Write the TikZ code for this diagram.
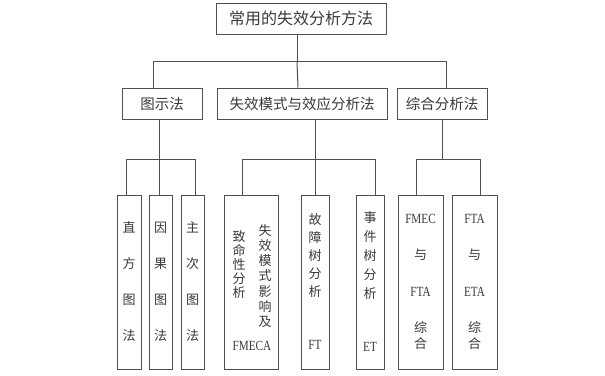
\documentclass[tikz,border=0pt]{standalone}
\usepackage{fontspec}
\setmainfont{Liberation Serif}
\newfontfamily\cjk{Noto Sans CJK SC}
\newfontfamily\latn[FakeStretch=0.8]{Liberation Serif}
\usetikzlibrary{positioning}
\definecolor{edge}{HTML}{505050}
\definecolor{ink}{HTML}{3A3A3A}
\newcommand\en[1]{{\latn\fontsize{14}{16}\selectfont #1}}
\tikzset{
  % A heading box with one line of text
  headbox/.style={
    draw=edge, line width=1pt, fill=white, rectangle, align=center,
    font=\cjk\fontsize{14.5}{16}\selectfont, text=ink,
    inner sep=0pt, minimum height=31, minimum width=#1},
  % A tall leaf box, text stacked one character per line
  leafbox/.style={
    draw=edge, line width=1pt, fill=white, rectangle, align=center,
    font=\cjk\fontsize{13}{36}\selectfont, text=ink,
    inner sep=0pt, minimum height=174, minimum width=#1},
  % Loose stacked text inside a leaf box
  vtext/.style={align=center, text=ink, inner sep=0pt},
  % Tree lines
  link/.style={draw=edge, line width=1pt},
}

\begin{document}
\begin{tikzpicture}[x=1pt, y=-1pt]
\useasboundingbox (0,0) rectangle (605,375);

\node[headbox=170, font=\cjk\fontsize{16}{18}\selectfont] (top) at (301,18.5) {常用的失效分析方法};

\node[headbox=80] (gs) at (162,103.5) {图示法};
\node[headbox=170, right=14 of gs] (sx) {失效模式与效应分析法};
\node[headbox=90, right=9 of sx] (zh) {综合分析法};

\node[leafbox=24] (zf) at (129,282) {直\\方\\图\\法};
\node[leafbox=23, right=7 of zf] (yg) {因\\果\\图\\法};
\node[leafbox=23, right=8 of yg] (zc) {主\\次\\图\\法};

\node[leafbox=54] (fm) at (251,282) {};
\node[leafbox=28, right=22 of fm, font=\cjk\fontsize{13}{18}\selectfont] (ft) {故\\障\\树\\分\\析\\[35pt]\en{FT}};
\node[leafbox=28, right=26 of ft, font=\cjk\fontsize{13}{19}\selectfont] (et) {事\\件\\树\\分\\析\\[34pt]\en{ET}};

\node[leafbox=45, right=13 of et, font=\cjk\fontsize{13}{16}\selectfont] (fa) {\en{FMEC}\\[20pt]与\\[21pt]\en{FTA}\\[20pt]综\\合};
\node[leafbox=45, right=8 of fa, font=\cjk\fontsize{13}{16}\selectfont] (fe) {\en{FTA}\\[20pt]与\\[21pt]\en{ETA}\\[20pt]综\\合};

\node[vtext, font=\cjk\fontsize{13}{15.3}\selectfont] (fmR) at (265,276) {失\\效\\模\\式\\影\\响\\及};
\node[vtext, font=\cjk\fontsize{13}{14}\selectfont] (fmL) at (239,265) {致\\命\\性\\分\\析};
\node[vtext] (fmC) at (252,346) {\en{FMECA}};

\draw[link] ([xshift=-4pt]top.south) -- ++(0,27) coordinate (j1);
\draw[link] ([xshift=-9pt]gs.north) |- (j1) -| ([xshift=4pt]zh.north);
\draw[link] (j1) -- ([xshift=-4pt]sx.north);

\draw[link] ([xshift=-3pt]gs.south) -- ++(0,40) coordinate (j2);
\draw[link] ([xshift=-3pt]zf.north) |- (j2) -| ([xshift=2.5pt]zc.north);
\draw[link] (j2) -- (j2 |- yg.north);

\draw[link] ([xshift=13pt]sx.south) -- ++(0,40) coordinate (j3);
\draw[link] ([xshift=-9pt]fm.north) |- (j3) -| ([xshift=5pt]et.north);
\draw[link] (j3) -- (ft.north);

\draw[link] (zh.south) -- ++(0,40) coordinate (j4);
\draw[link] ([xshift=-4.5pt]fa.north) |- (j4) -| ([xshift=5.5pt]fe.north);

\end{tikzpicture}
\end{document}
